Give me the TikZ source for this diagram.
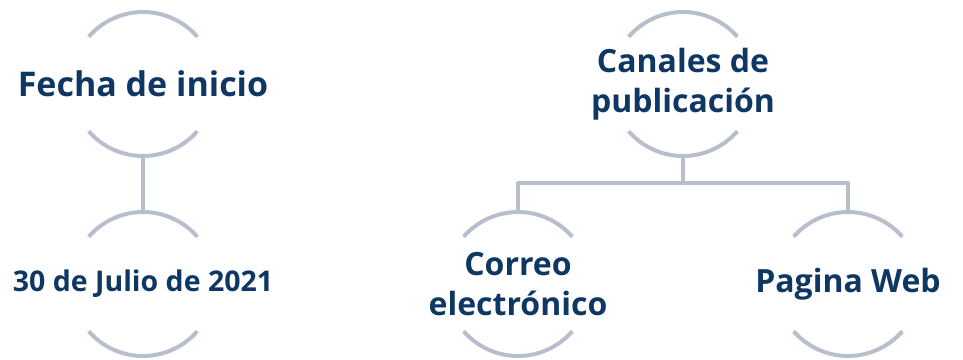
\documentclass[tikz,border=0pt]{standalone}
\usepackage{fontspec}
\setmainfont{Open Sans}
\usepackage{tikz}
\usetikzlibrary {positioning}
\definecolor{navytext}{HTML}{0E3763}
\definecolor{ringgray}{HTML}{B8BFCC}

\begin{document}
\begin{tikzpicture}[
        x=1pt,y=1pt,node distance=200pt,on grid,
        ring/.style={circle,minimum size=144pt,inner sep=0pt,outer sep=0pt},
        ringline/.style={ringgray,line width=4pt},
        label text/.style={text=navytext,font=\bfseries\fontsize{32}{40}\selectfont,align=center}
        ]
        \useasboundingbox (0,0) rectangle (963,359);

        \node[ring]                     (c_0) at (143,275)          {};
        \node[ring]                     (c_1) [below=of c_0]        {};
        \node[ring]                     (c_2) at (683,275)          {};
        \node[ring]                     (c_3) [below left=200pt and 165pt of c_2]  {};
        \node[ring]                     (c_4) [below right=200pt and 165pt of c_2] {};

        % upper and lower arcs of each ring
        \foreach \c in {c_0,c_1,c_2,c_3,c_4}{
          \draw[ringline] (\c.41) arc[start angle=41,end angle=139,radius=72pt];
          \draw[ringline] (\c.221) arc[start angle=221,end angle=319,radius=72pt];
        }

        \node[label text,font=\bfseries\fontsize{34}{40}\selectfont] (t_0) at (c_0) {Fecha de inicio};
        \node[label text,font=\bfseries\fontsize{28.5}{34}\selectfont] (t_1) at (c_1) {30 de Julio de 2021};
        \node[label text]               (t_2) at (c_2)              {Canales de\\publicación};
        \node[label text]               (t_3) at (c_3)              {Correo\\electrónico};
        \node[label text]               (t_4) at (c_4)              {Pagina Web};

        \draw[ringline] (c_0.south) -- (c_1.north);
        \draw[ringline,line join=round] (c_2.south) -- ++(0,-27) -| (c_3.north);
        \draw[ringline,line join=round] (c_2.south) -- ++(0,-27) -| (c_4.north);
      \end{tikzpicture}
\end{document}
